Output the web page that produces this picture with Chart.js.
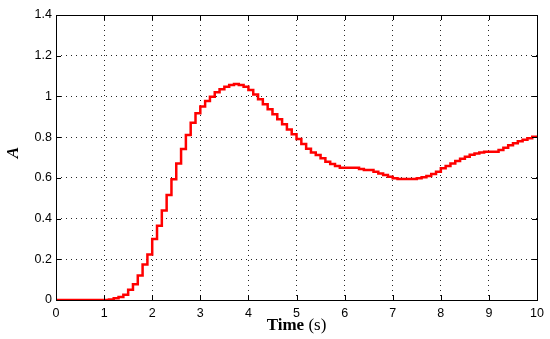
<!DOCTYPE html>
<html>
<head>
<meta charset="utf-8">
<script src="https://cdn.jsdelivr.net/npm/chart.js@4/dist/chart.umd.min.js"></script>
<style>
  html, body { margin: 0; padding: 0; background: #fff; }
  #wrap { width: 550px; height: 339px; position: relative; }
</style>
</head>
<body>
<div id="wrap"><canvas id="chart"></canvas></div>
<script>
// sample times (s), one every 0.1 s
const times = [
  0.0, 0.1, 0.2, 0.3, 0.4, 0.5, 0.6, 0.7, 0.8, 0.9,
  1.0, 1.1, 1.2, 1.3, 1.4, 1.5, 1.6, 1.7, 1.8, 1.9,
  2.0, 2.1, 2.2, 2.3, 2.4, 2.5, 2.6, 2.7, 2.8, 2.9,
  3.0, 3.1, 3.2, 3.3, 3.4, 3.5, 3.6, 3.7, 3.8, 3.9,
  4.0, 4.1, 4.2, 4.3, 4.4, 4.5, 4.6, 4.7, 4.8, 4.9,
  5.0, 5.1, 5.2, 5.3, 5.4, 5.5, 5.6, 5.7, 5.8, 5.9,
  6.0, 6.1, 6.2, 6.3, 6.4, 6.5, 6.6, 6.7, 6.8, 6.9,
  7.0, 7.1, 7.2, 7.3, 7.4, 7.5, 7.6, 7.7, 7.8, 7.9,
  8.0, 8.1, 8.2, 8.3, 8.4, 8.5, 8.6, 8.7, 8.8, 8.9,
  9.0, 9.1, 9.2, 9.3, 9.4, 9.5, 9.6, 9.7, 9.8, 9.9,
  10.0
];

const amplitude = [
  0, 0, 0, 0, 0, 0, 0, 0, 0, 0,
  0, 0.003, 0.008, 0.015, 0.026, 0.05, 0.077, 0.12, 0.175, 0.224,
  0.30, 0.365, 0.44, 0.516, 0.593, 0.671, 0.742, 0.811, 0.871, 0.917,
  0.950, 0.977, 0.999, 1.02, 1.035, 1.048, 1.056, 1.061, 1.056, 1.048,
  1.031, 1.01, 0.986, 0.961, 0.937, 0.912, 0.888, 0.863, 0.838, 0.814,
  0.791, 0.766, 0.743, 0.724, 0.712, 0.696, 0.679, 0.668, 0.658, 0.650,
  0.650, 0.650, 0.650, 0.643, 0.638, 0.638, 0.630, 0.622, 0.614, 0.606,
  0.598, 0.594, 0.594, 0.594, 0.594, 0.598, 0.603, 0.609, 0.619, 0.630,
  0.647, 0.658, 0.671, 0.683, 0.694, 0.704, 0.714, 0.720, 0.725, 0.728,
  0.728, 0.728, 0.737, 0.748, 0.760, 0.770, 0.780, 0.787, 0.794, 0.802,
  0.805
];

const xTicks = [0, 1, 2, 3, 4, 5, 6, 7, 8, 9, 10];
const yTicks = [0, 0.2, 0.4, 0.6, 0.8, 1, 1.2, 1.4];
const xTitleBold = 'Time';
const xTitleRest = ' (s)';
const yTitle = 'A';

// box, inward tick marks and axis titles, matlab style
const matlabFrame = {
  id: 'matlabFrame',
  afterDatasetsDraw(chart) {
    const { ctx, chartArea: a, scales } = chart;
    ctx.save();
    ctx.strokeStyle = '#000';
    ctx.lineWidth = 1;
    ctx.beginPath();
    const tl = 5;
    xTicks.forEach(v => {
      const px = Math.round(scales.x.getPixelForValue(v)) + 0.5;
      ctx.moveTo(px, a.bottom); ctx.lineTo(px, a.bottom - tl);
      ctx.moveTo(px, a.top); ctx.lineTo(px, a.top + tl);
    });
    yTicks.forEach(v => {
      const py = Math.round(scales.y.getPixelForValue(v)) + 0.5;
      ctx.moveTo(a.left, py); ctx.lineTo(a.left + tl, py);
      ctx.moveTo(a.right, py); ctx.lineTo(a.right - tl, py);
    });
    ctx.stroke();
    ctx.strokeRect(Math.round(a.left) + 0.5, Math.round(a.top) + 0.5,
      Math.round(a.right - a.left), Math.round(a.bottom - a.top));

    // x title: bold "Time", regular "(s)"
    ctx.fillStyle = '#000';
    ctx.textBaseline = 'alphabetic';
    const boldFont = 'bold 17px "Liberation Serif", "Times New Roman", serif';
    const normFont = '17px "Liberation Serif", "Times New Roman", serif';
    ctx.font = boldFont;
    const w1 = ctx.measureText(xTitleBold).width;
    ctx.font = normFont;
    const w2 = ctx.measureText(xTitleRest).width;
    const cx = (a.left + a.right) / 2;
    const sx = cx - (w1 + w2) / 2;
    ctx.font = boldFont;
    ctx.textAlign = 'left';
    ctx.fillText(xTitleBold, sx, a.bottom + 30);
    ctx.font = normFont;
    ctx.fillText(xTitleRest, sx + w1, a.bottom + 30);

    // y title
    ctx.translate(18, (a.top + a.bottom) / 2 - 5);
    ctx.rotate(-Math.PI / 2);
    ctx.font = 'italic bold 17px "Liberation Serif", "Times New Roman", serif';
    ctx.textAlign = 'center';
    ctx.fillText(yTitle, 0, 0);
    ctx.restore();
  }
};

const gridStyle = {
  color: 'rgba(0,0,0,0.85)',
  lineWidth: 1,
  drawTicks: false
};

new Chart(document.getElementById('chart'), {
  type: 'line',
  data: {
    datasets: [{
      data: times.map((t, i) => ({ x: t, y: amplitude[i] })),
      borderColor: '#ff0000',
      borderWidth: 2.5,
      pointRadius: 0,
      stepped: 'before',
      fill: false
    }]
  },
  options: {
    responsive: true,
    maintainAspectRatio: false,
    animation: false,
    layout: { padding: { top: 15, right: 10, left: 0, bottom: 0 } },
    plugins: {
      legend: { display: false },
      tooltip: { enabled: false }
    },
    scales: {
      x: {
        type: 'linear',
        min: 0,
        max: 10,
        afterBuildTicks(scale) { scale.ticks = xTicks.map(v => ({ value: v })); },
        afterFit(scale) { scale.height = 39; },
        border: { display: false, dash: [1, 4] },
        grid: gridStyle,
        ticks: {
          color: '#000',
          padding: 6,
          maxRotation: 0,
          font: { family: '"Liberation Sans", Arial, sans-serif', size: 12.5 }
        }
      },
      y: {
        type: 'linear',
        min: 0,
        max: 1.4,
        afterBuildTicks(scale) { scale.ticks = yTicks.map(v => ({ value: v })); },
        afterFit(scale) { scale.width = 56; },
        border: { display: false, dash: [1, 4] },
        grid: gridStyle,
        ticks: {
          color: '#000',
          padding: 4,
          font: { family: '"Liberation Sans", Arial, sans-serif', size: 12.5 },
          callback: v => String(v)
        }
      }
    }
  },
  plugins: [matlabFrame]
});
</script>
</body>
</html>
